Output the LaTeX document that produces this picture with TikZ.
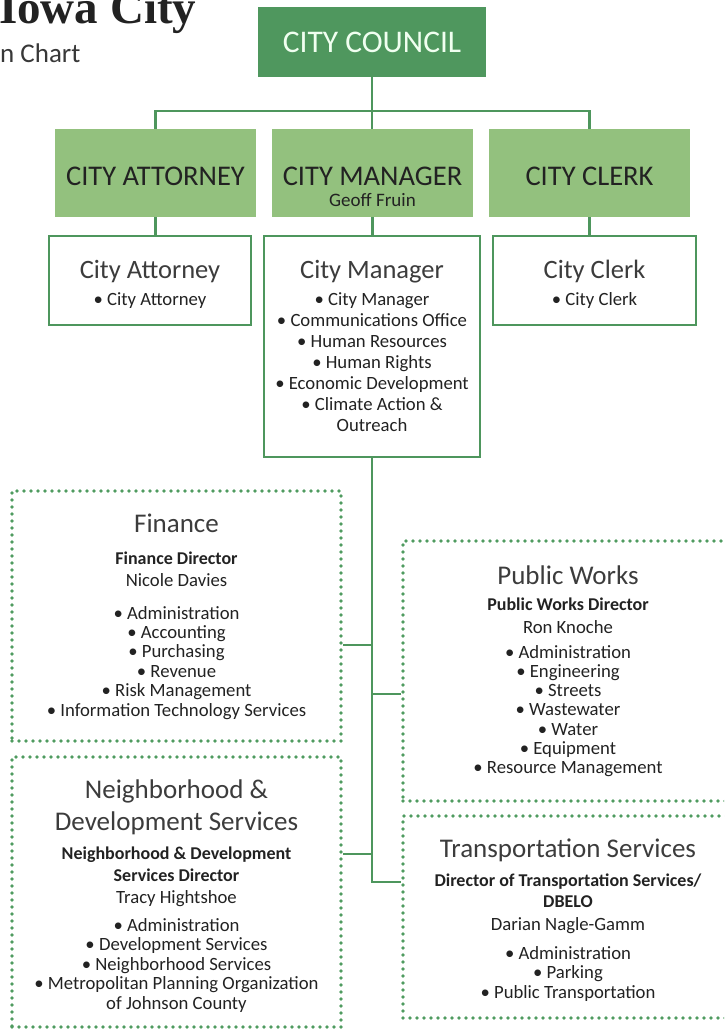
\documentclass[tikz,border=0pt]{standalone}
\usepackage{fontspec}
\setmainfont{Carlito}
\newfontfamily\serifhead{Liberation Serif}
\definecolor{councilgreen}{HTML}{4F975E}
\definecolor{officegreen}{HTML}{93C17E}
\definecolor{linegreen}{HTML}{4E965D}
\definecolor{dotgreen}{HTML}{4F9B60}
\definecolor{ink}{HTML}{222222}
\begin{document}
\begin{tikzpicture}[x=1pt,y=-1pt,
  council/.style={rectangle,fill=councilgreen,text=white!94!green,minimum width=228pt,minimum height=70pt,
    text height=21pt,text depth=0pt,font=\fontsize{31.5}{33}\selectfont},
  office/.style={rectangle,fill=officegreen,text=ink,minimum width=201pt,minimum height=88pt,
    text height=24pt,text depth=0pt,font=\fontsize{28.5}{30}\selectfont},
  unit/.style={rectangle,draw=linegreen,line width=2.8pt,fill=white},
  dept/.style={rectangle,draw=dotgreen,line width=3.6pt,line cap=round,dash pattern=on 0pt off 7pt},
  link/.style={draw=linegreen,line width=2.8pt},
  head/.style={anchor=base,inner sep=0pt,text=ink!88,font=\fontsize{26.5}{28}\selectfont},
  boss/.style={anchor=base,inner sep=0pt,text=ink,font=\fontsize{18}{20}\selectfont\bfseries},
  who/.style={anchor=base,inner sep=0pt,text=ink,font=\fontsize{18.7}{20}\selectfont},
  item/.style={anchor=base,inner sep=0pt,text=ink,font=\fontsize{18.7}{20}\selectfont}]
\useasboundingbox (0,0) rectangle (724,1029);
\clip (0,0) rectangle (724,1029);

% heading, cut by the page edge
\node (town) [anchor=base west,inner sep=0pt,text=ink,font=\serifhead\bfseries\fontsize{47}{50}\selectfont] at (-1,23) {Iowa City};
\node (chart) [anchor=base west,inner sep=0pt,text=ink!90,font=\fontsize{27}{30}\selectfont] at (0,62) {n Chart};

% council and the appointed offices
\node (council) [council] at (372,42) {CITY COUNCIL};
\node (attyhead) [office] at (155.5,173) {CITY ATTORNEY};
\node (mgrhead) [office] at (372.5,173) {CITY MANAGER};
\node (clerkhead) [office] at (589.5,173) {CITY CLERK};
\node (mgrname) [who,font=\fontsize{19}{21}\selectfont] at (372.5,206) {Geoff Fruin};

\node (attybox) [unit,minimum width=202pt,minimum height=89pt] at (150,280.5) {};
\node (mgrbox) [unit,minimum width=216pt,minimum height=221pt] at (372,346.5) {};
\node (clerkbox) [unit,minimum width=203pt,minimum height=89pt] at (594.5,280.5) {};

\node (attytitle) [head] at (150,278) {City Attorney};
\node (attyitem) [item] at (150,305) {• City Attorney};
\node (clerktitle) [head] at (594.5,278) {City Clerk};
\node (clerkitem) [item] at (594.5,305) {• City Clerk};
\node (mgrtitle) [head] at (372,278) {City Manager};
\foreach \t [count=\i from 0] in {• City Manager,• Communications Office,• Human Resources,
    • Human Rights,• Economic Development,{• Climate Action \&},Outreach}
  \node (mgr-\i) [item] at (372,{305+21*\i}) {\t};

% departments
\node (finance) [dept,minimum width=329pt,minimum height=250pt] at (176.5,616) {};
\node (works) [dept,minimum width=330pt,minimum height=260pt] at (568,671) {};
\node (nds) [dept,minimum width=329pt,minimum height=270pt] at (176.5,892) {};
\node (transport) [dept,minimum width=330pt,minimum height=202pt] at (568,917) {};

\node (fintitle) [head,font=\fontsize{27}{28}\selectfont] at (176.5,532) {Finance};
\node (finboss) [boss] at (176.5,564) {Finance Director};
\node (finwho) [who] at (176.5,586) {Nicole Davies};
\foreach \t [count=\i from 0] in {Administration,Accounting,Purchasing,Revenue,
    Risk Management,Information Technology Services}
  \node (fin-\i) [item] at (176.5,{619+19.4*\i}) {• \t};

\node (workstitle) [head,font=\fontsize{27}{28}\selectfont] at (568,584) {Public Works};
\node (worksboss) [boss] at (568,610) {Public Works Director};
\node (workswho) [who] at (568,633) {Ron Knoche};
\foreach \t [count=\i from 0] in {Administration,Engineering,Streets,Wastewater,
    Water,Equipment,Resource Management}
  \node (works-\i) [item] at (568,{658+19.33*\i}) {• \t};

\node (ndstitle) [head,font=\fontsize{27}{28}\selectfont] at (176.5,798) {Neighborhood \&};
\node (ndstitle2) [head,font=\fontsize{27}{28}\selectfont] at (176.5,830) {Development Services};
\node (ndsboss) [boss] at (176.5,859) {Neighborhood \& Development};
\node (ndsboss2) [boss] at (176.5,881) {Services Director};
\node (ndswho) [who] at (176.5,903) {Tracy Hightshoe};
\foreach \t [count=\i from 0] in {• Administration,• Development Services,• Neighborhood Services,
    • Metropolitan Planning Organization,of Johnson County}
  \node (nds-\i) [item] at (176.5,{931+19.5*\i}) {\t};

\node (transtitle) [head,font=\fontsize{27}{28}\selectfont] at (568,857) {Transportation Services};
\node (transboss) [boss] at (568,886) {Director of Transportation Services/};
\node (transboss2) [boss] at (568,907) {DBELO};
\node (transwho) [who] at (568,930) {Darian Nagle-Gamm};
\foreach \t [count=\i from 0] in {Administration,Parking,Public Transportation}
  \node (trans-\i) [item] at (568,{959+19.5*\i}) {• \t};

% connectors
\coordinate (bar) at (372,111);
\draw[link] (council.south) -- (council.south |- mgrhead.north);
\draw[link] (attyhead.north) -- (attyhead.north |- bar) -- (clerkhead.north |- bar) -- (clerkhead.north);
\draw[link] (attyhead.south) -- (attyhead.south |- attybox.north);
\draw[link] (mgrhead.south) -- (mgrhead.south |- mgrbox.north);
\draw[link] (clerkhead.south) -- (clerkhead.south |- clerkbox.north);

\coordinate (fin-in) at ([yshift=-29pt]finance.east);
\coordinate (works-in) at ([yshift=-23pt]works.west);
\coordinate (nds-in) at ([yshift=38pt]nds.east);
\coordinate (trans-in) at ([yshift=35pt]transport.west);
\draw[link] (mgrbox.south) |- (trans-in);
\draw[link] (fin-in) -- (mgrbox.south |- fin-in);
\draw[link] (works-in) -- (mgrbox.south |- works-in);
\draw[link] (nds-in) -- (mgrbox.south |- nds-in);
\end{tikzpicture}
\end{document}
